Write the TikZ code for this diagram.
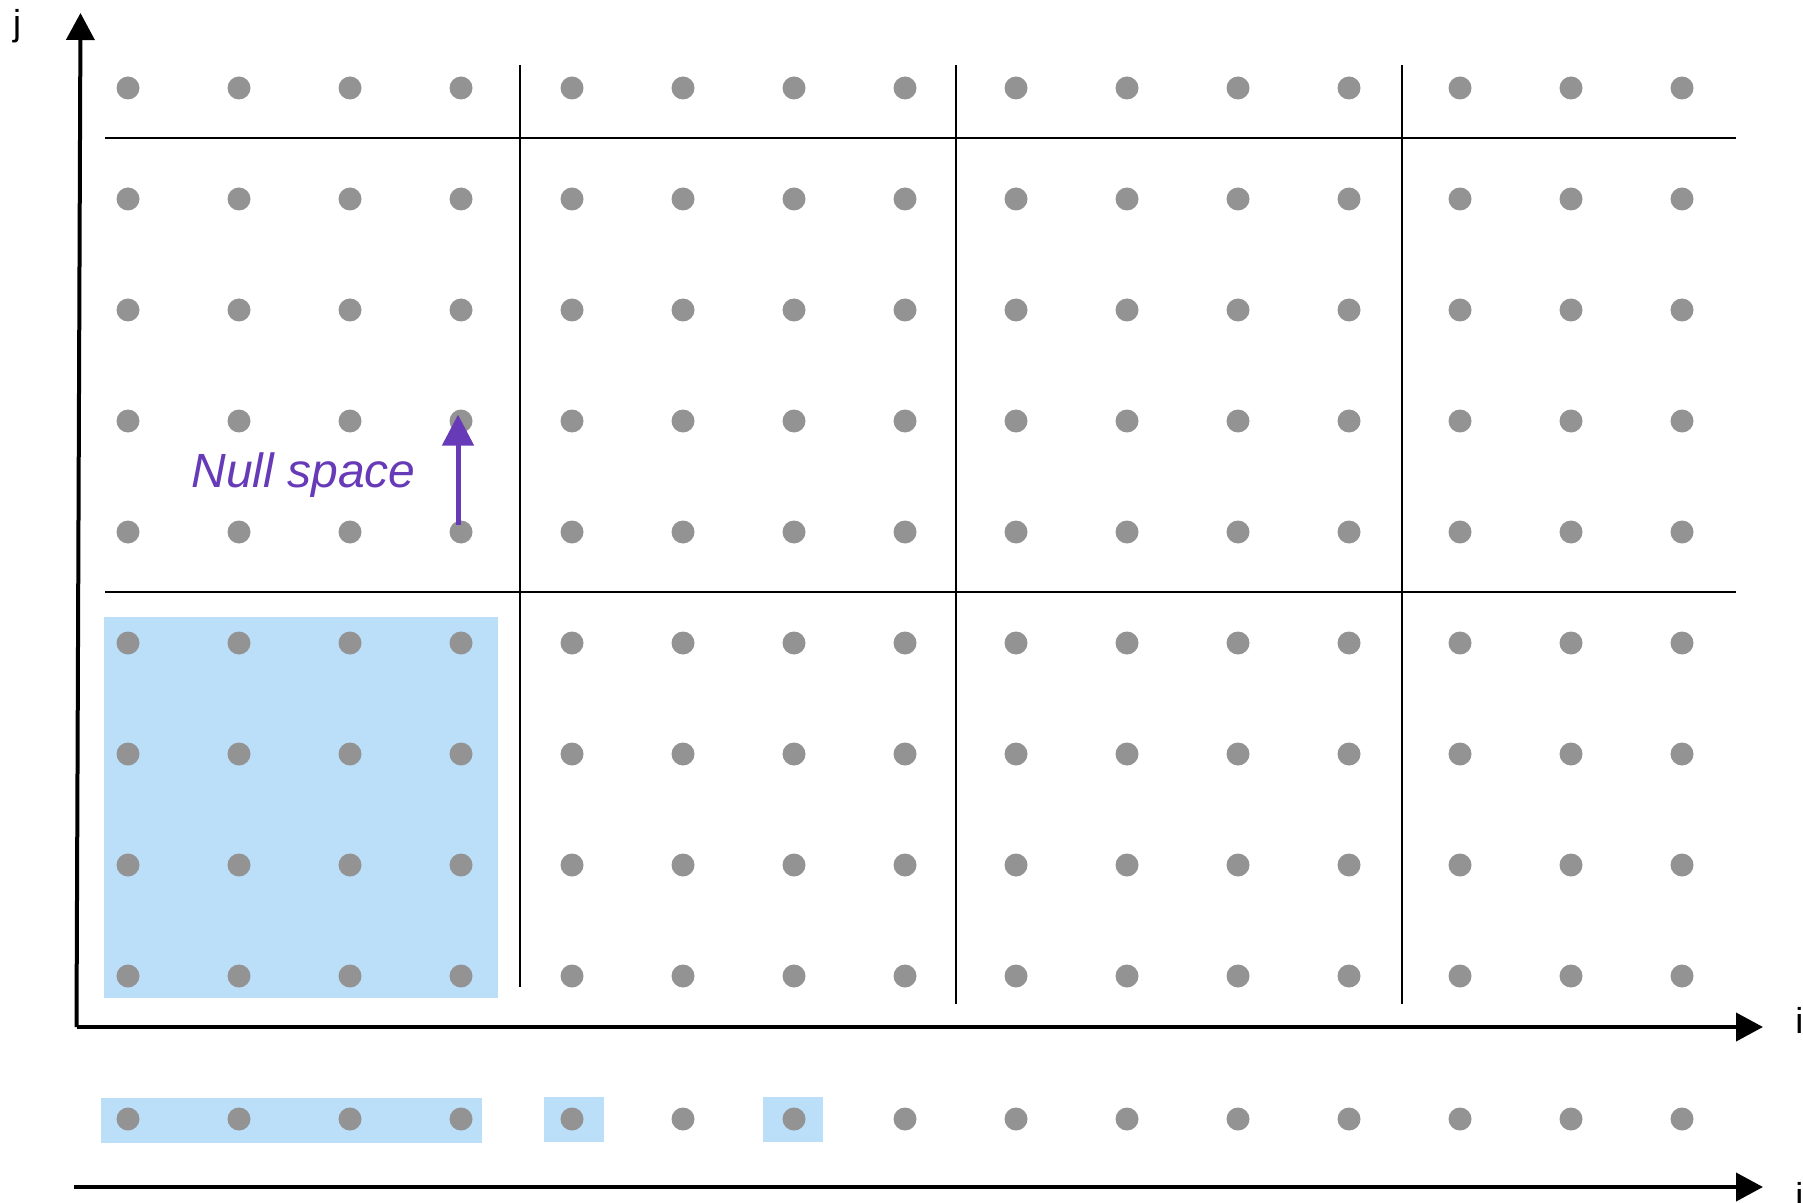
\documentclass[tikz,border=0pt]{standalone}
\usepackage{fontspec}
\setmainfont{Liberation Sans}
\usetikzlibrary{arrows.meta}
\definecolor{dotgray}{HTML}{939393}
\definecolor{selblue}{HTML}{BBDEF9}
\definecolor{nullpurple}{HTML}{673AB7}

\begin{document}
\begin{tikzpicture}[x=0.5pt,y=-0.5pt,>={Triangle[length=13.5pt,width=14pt]}]
\tikzstyle{dot}=[circle,fill=dotgray,inner sep=0pt,minimum size=11.5pt]
\tikzstyle{tile}=[line width=1pt]
\tikzstyle{axis}=[line width=2pt,->]
\tikzstyle{sel}=[fill=selblue]
\tikzstyle{nullarr}=[line width=2.5pt,nullpurple,-{Triangle[length=15.5pt,width=15.5pt]}]
\useasboundingbox (0,0) rectangle (1803,1203);
% highlighted tile and its points on the i line
\fill[sel] (104,617) rectangle (498,998);
\fill[sel] (101,1098) rectangle (482,1143); \fill[sel] (544,1097) rectangle (604,1142); \fill[sel] (763,1097) rectangle (823,1142);
% tile borders
\draw[tile] (105,138) -- (1736,138); \draw[tile] (105,592) -- (1736,592);
\draw[tile] (520,65) -- (520,987); \draw[tile] (956,65) -- (956,1004); \draw[tile] (1402,65) -- (1402,1004);
% iteration points
\foreach \r in {0,...,8} \foreach \c in {0,...,14} \node[dot] (p\r-\c) at ({128+111*\c},{88+111*\r}) {};
\foreach \c in {0,...,14} \node[dot] (q\c) at ({128+111*\c},1119) {};
% axes
\coordinate (o) at (76.5,1027); \coordinate (jt) at (80.5,13); \coordinate (it) at (1763,1027);
\coordinate (o2) at (74,1187); \coordinate (it2) at (1763,1187);
\draw[axis] (o) -- (jt); \draw[axis] (o) -- (it); \draw[axis] (o2) -- (it2);
\node[font=\fontsize{18pt}{20pt}\selectfont,anchor=base,inner sep=0pt] (jl) at (17,36) {j};
\node[font=\fontsize{18pt}{20pt}\selectfont,anchor=base west,inner sep=0pt] (il) at (1795,1033) {i};
\node[font=\fontsize{18pt}{20pt}\selectfont,anchor=base west,inner sep=0pt] (il2) at (1795,1208) {i};
% null space direction
\draw[nullarr] ([xshift=-1.5pt,yshift=3.5pt]p4-3.center) -- ([xshift=-1.5pt,yshift=-2.75pt]p3-3.north);
\node[font=\fontsize{24pt}{28pt}\selectfont\itshape,text=nullpurple,anchor=base west,inner sep=0pt] (ns) at (191,487) {Null space};
\end{tikzpicture}
\end{document}
